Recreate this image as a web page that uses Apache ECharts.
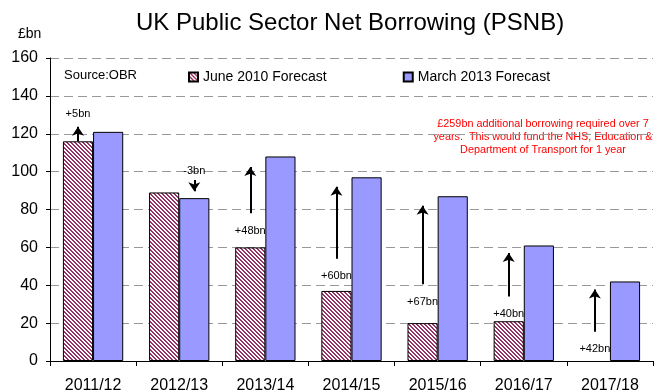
<!DOCTYPE html>
<html>
<head>
<meta charset="utf-8">
<script src="https://cdn.jsdelivr.net/npm/echarts@6/dist/echarts.min.js"></script>
<style>
  html, body { margin: 0; padding: 0; background: #ffffff; }
  #chart { width: 660px; height: 392px; }
</style>
</head>
<body>
<div id="chart"></div>
<script>
// Financial years on the category axis
const years = ['2011/12', '2012/13', '2013/14', '2014/15', '2015/16', '2016/17', '2017/18'];
// PSNB forecasts, £bn
const june2010 = [116, 89, 60, 37, 20, 21, null];
const march2013 = [121, 86, 108, 97, 87, 61, 42];
// Change arrows, in £bn on the value axis: tail and head of each arrow
const arrowTail = [116, 95.6, 78, 54, 40.5, 34, 15.5];
const arrowHead = [123.7, 89.7, 102.4, 92, 82, 57, 37.7];
// Value axis ticks
const yMin = 0, yMax = 160, yStep = 20;

const FONT = "'Liberation Sans', Arial, sans-serif";

// Revision between the two forecasts for each year, and the total over the period
const change = march2013.map((v, i) => v - (june2010[i] || 0));
const totalChange = change.reduce((a, b) => a + b, 0);
const fmtChange = d => (d > 0 ? '+' : '') + d + 'bn';

// Diagonal maroon/white hatch used for the 2010 forecast bars
function hatchPattern() {
  const s = 4;
  const c = document.createElement('canvas');
  c.width = c.height = s;
  const g = c.getContext('2d');
  g.fillStyle = '#ffffff';
  g.fillRect(0, 0, s, s);
  g.fillStyle = '#993366';
  for (let y = 0; y < s; y++) {
    for (let x = 0; x < s; x++) {
      if ((((x - y) % s) + s) % s < 2) g.fillRect(x, y, 1, 1);
    }
  }
  return c;
}

// Build arrow pairs; upward revisions hang off the 2010 bar, downward ones off the 2013 bar.
// The label sits above the head when the arrow starts on the bar top, otherwise beside the tail.
function arrows(up) {
  const out = [];
  change.forEach((d, i) => {
    if ((d > 0) !== up) return;
    const atBarTop = june2010[i] !== null && arrowTail[i] === june2010[i];
    out.push([
      {
        coord: [years[i], arrowTail[i]],
        label: {
          formatter: fmtChange(d),
          position: atBarTop ? 'end' : 'start',
          distance: atBarTop ? 7 : (up ? 12 : 3)
        }
      },
      { coord: [years[i], arrowHead[i]] }
    ]);
  });
  return out;
}

function markLineFor(up) {
  return {
    silent: true,
    animation: false,
    symbol: ['none', 'arrow'],
    symbolSize: 9,
    lineStyle: { color: '#000000', width: 2, type: 'solid' },
    label: { show: true, color: '#000000', fontSize: 11, fontFamily: FONT },
    emphasis: { disabled: true },
    data: arrows(up)
  };
}

const chart = echarts.init(document.getElementById('chart'), null, { renderer: 'canvas' });

chart.setOption({
  animation: false,
  backgroundColor: '#ffffff',
  textStyle: { fontFamily: FONT },
  title: {
    text: 'UK Public Sector Net Borrowing (PSNB)',
    left: 136,
    top: 11,
    padding: 0,
    textStyle: { fontSize: 24, fontWeight: 'normal', color: '#000000', fontFamily: FONT }
  },
  legend: {
    left: 188,
    top: 70,
    padding: 0,
    itemWidth: 9,
    itemHeight: 9,
    itemGap: 76,
    selectedMode: false,
    icon: 'rect',
    textStyle: { fontSize: 14, color: '#000000', fontFamily: FONT },
    data: ['June 2010 Forecast', 'March 2013 Forecast']
  },
  grid: { left: 50, right: 7, top: 58, bottom: 31, containLabel: false, outerBoundsMode: 'none' },
  xAxis: {
    type: 'category',
    data: years,
    boundaryGap: true,
    axisLine: { lineStyle: { color: '#000000', width: 1 } },
    axisTick: { show: true, length: 5, lineStyle: { color: '#000000' } },
    axisLabel: { color: '#000000', fontSize: 16, margin: 17, fontFamily: FONT },
    splitLine: { show: false }
  },
  yAxis: {
    type: 'value',
    min: yMin,
    max: yMax,
    interval: yStep,
    axisLine: { show: true, lineStyle: { color: '#000000', width: 1 } },
    axisTick: { show: true, length: 4, lineStyle: { color: '#000000' } },
    axisLabel: { color: '#000000', fontSize: 16, margin: 12, fontFamily: FONT },
    splitLine: { show: true, lineStyle: { color: '#999999', width: 1, type: [9, 5] } }
  },
  graphic: [
    {
      type: 'text', x: 18, y: 27,
      style: { text: '£bn', fill: '#000000', fontSize: 14, fontFamily: FONT }
    },
    {
      type: 'text', x: 64, y: 69,
      style: { text: 'Source:OBR', fill: '#000000', fontSize: 13, fontFamily: FONT }
    },
    {
      type: 'text', x: 543, y: 117,
      style: {
        text: '£' + totalChange + 'bn additional borrowing required over ' + years.length +
              '\nyears.  This would fund the NHS, Education &\nDepartment of Transport for 1 year',
        fill: '#ff0000',
        fontSize: 10.8,
        lineHeight: 13.4,
        align: 'center',
        fontFamily: FONT
      }
    }
  ],
  series: [
    {
      name: 'June 2010 Forecast',
      type: 'bar',
      data: june2010,
      barGap: '0%',
      barCategoryGap: '30%',
      itemStyle: {
        color: { image: hatchPattern(), repeat: 'repeat' },
        borderColor: '#000000',
        borderWidth: 1
      },
      emphasis: { disabled: true },
      markLine: markLineFor(true)
    },
    {
      name: 'March 2013 Forecast',
      type: 'bar',
      data: march2013,
      barGap: '0%',
      barCategoryGap: '30%',
      itemStyle: { color: '#9999ff', borderColor: '#000000', borderWidth: 1 },
      emphasis: { disabled: true },
      markLine: markLineFor(false)
    }
  ]
});
</script>
</body>
</html>
